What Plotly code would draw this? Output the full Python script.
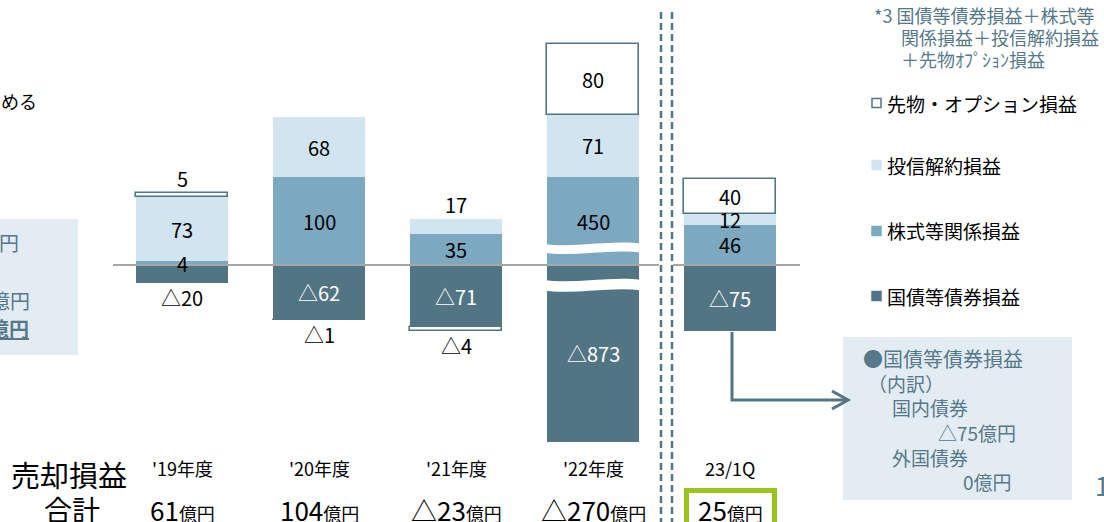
import plotly.graph_objects as go

W, H = 1104, 522

# ---------------- data ----------------
periods = ["'19年度", "'20年度", "'21年度", "'22年度", "23/1Q"]
bond = [-20, -62, -71, -873, -75]        # 国債等債券損益
equity = [4, 100, 35, 450, 46]           # 株式等関係損益
fund = [73, 68, 17, 71, 12]              # 投信解約損益
futures = [5, -1, -4, 80, 40]            # 先物・オプション損益
totals = [61, 104, -23, -270, 25]        # 売却損益合計（億円）
# part of each value hidden by the axis break (wavy cut on the '22 bar)
break_hidden_equity = [0, 0, 0, 350, 0]
break_hidden_bond = [0, 0, 0, -672, 0]

series_names = ["国債等債券損益", "株式等関係損益", "投信解約損益", "先物・オプション損益"]
legend_order = ["先物・オプション損益", "投信解約損益", "株式等関係損益", "国債等債券損益"]

# ---------------- style ----------------
DARK = "#527584"
MID = "#7CA8C0"
LIGHT = "#D1E5F1"
BOXBG = "#E3ECF2"
SLATE = "#56798A"
GRAY = "#A6A6A6"
LIME = "#9BC31C"
FONT = "Noto Sans CJK JP"

PPU = 0.88          # pixels per unit (y)
ZERO_PX = 265       # zero line pixel row
X0_PX, PITCH = 182, 137
BAR_W = 0.672

yrange = [(ZERO_PX - H) / PPU, ZERO_PX / PPU]
xrange = [-X0_PX / PITCH, (W - X0_PX) / PITCH]


def fmt(v):
    return f"△{abs(v)}" if v < 0 else str(v)


def px(x):
    return x / W


def py(y):
    return 1 - y / H


xs = list(range(len(periods)))
disp_bond = [v - h for v, h in zip(bond, break_hidden_bond)]
disp_equity = [v - h for v, h in zip(equity, break_hidden_equity)]
values = [bond, equity, fund, futures]
disp = [disp_bond, disp_equity, fund, futures]
colors = [DARK, MID, LIGHT, "white"]

fig = go.Figure()
for name, d, col in zip(series_names, disp, colors):
    is_fut = col == "white"
    fig.add_trace(go.Bar(
        x=xs, y=d, name=name, width=BAR_W,
        marker=dict(color=col, line=dict(color=DARK if is_fut else col,
                                         width=1.6 if is_fut else 0)),
        showlegend=False, hoverinfo="skip"))

annotations = []
shapes = []


def ann(text, x, y, size, color="black", xanchor="center", yanchor="middle",
        xref="paper", yref="paper", yshift=0, align="left"):
    annotations.append(dict(text=text, x=x, y=y, xref=xref, yref=yref,
                            xanchor=xanchor, yanchor=yanchor, showarrow=False,
                            yshift=yshift, align=align,
                            font=dict(family=FONT, size=size, color=color)))


# ---- bar labels ----
LBL = 20
for i in xs:
    pos_base, neg_base = 0.0, 0.0
    segs = []
    for k in range(4):
        d = disp[k][i]
        if d >= 0:
            lo, hi = pos_base, pos_base + d
            pos_base = hi
        else:
            lo, hi = neg_base + d, neg_base
            neg_base = lo
        segs.append((lo, hi, d))
    for k, (lo, hi, d) in enumerate(segs):
        v = values[k][i]
        txt = fmt(v)
        outer_pos = d >= 0 and hi == pos_base
        outer_neg = d < 0 and lo == neg_base
        if abs(d) <= 20 and (outer_pos or outer_neg):
            if d >= 0:
                ann(txt, i, hi, LBL, xref="x", yref="y", yanchor="bottom", yshift=-2)
            else:
                ann(txt, i, lo, LBL, xref="x", yref="y", yanchor="top", yshift=2)
        else:
            col = "white" if k == 0 else "black"
            ann(txt, i, (lo + hi) / 2, LBL, col, xref="x", yref="y")

# ---- axis break bands on the '22 bar ----
for i in xs:
    for hidden, yc, t in ((break_hidden_equity[i], 19, 10), (break_hidden_bond[i], -23, 12)):
        if hidden == 0:
            continue
        xl, xr = i - BAR_W / 2 - 0.03, i + BAR_W / 2 + 0.03
        w = xr - xl
        a = 2.5
        yt, yb = yc + t / 2, yc - t / 2
        path = (f"M {xl},{yt} C {xl + w / 3},{yt - 2 * a} {xl + 2 * w / 3},{yt + 2 * a} {xr},{yt} "
                f"L {xr},{yb} C {xl + 2 * w / 3},{yb + 2 * a} {xl + w / 3},{yb - 2 * a} {xl},{yb} Z")
        shapes.append(dict(type="path", path=path, xref="x", yref="y",
                           fillcolor="white", line=dict(width=0), layer="above"))

# ---- zero line ----
for a0, a1 in ((113, 659), (673, 800)):
    shapes.append(dict(type="line", xref="paper", yref="paper",
                       x0=px(a0), x1=px(a1), y0=py(ZERO_PX), y1=py(ZERO_PX),
                       line=dict(color=GRAY, width=2), layer="above"))

# ---- double dashed separator ----
for xx in (661, 672):
    shapes.append(dict(type="line", xref="paper", yref="paper",
                       x0=px(xx), x1=px(xx), y0=py(12), y1=py(522),
                       line=dict(color=DARK, width=2.5, dash="7px,4px")))

# ---- left partial box ----
shapes.append(dict(type="rect", xref="paper", yref="paper",
                   x0=px(-10), x1=px(78), y0=py(219), y1=py(355),
                   fillcolor=BOXBG, line=dict(width=0), layer="below"))
ann("円", px(21), py(242), 20, SLATE, xanchor="right")
ann("億円", px(32), py(300), 20, SLATE, xanchor="right")
ann("<b><u>億円</u></b>", px(31), py(328), 20, SLATE, xanchor="right")
ann("める", px(-1), py(101), 18, "black", xanchor="left")

# ---- category & totals ----
ann("売却損益", px(69), py(474), 29)
ann("合計", px(72), py(509), 28)
for i, (p, t) in enumerate(zip(periods, totals)):
    cx = px(X0_PX + PITCH * i)
    ann(p, cx, py(468), 18)
    ann(f"{fmt(t)}<span style='font-size:18px'>億円</span>", cx, py(509), 26)

shapes.append(dict(type="rect", xref="paper", yref="paper",
                   x0=px(686.5), x1=px(774.5), y0=py(490.5), y1=py(535),
                   line=dict(color=LIME, width=5), fillcolor="rgba(0,0,0,0)"))

# ---- footnote ----
ann("*3 国債等債券損益＋株式等", px(872), py(15), 18, SLATE, xanchor="left")
ann("関係損益＋投信解約損益", px(899), py(37), 18, SLATE, xanchor="left")
ann("＋先物ｵﾌﾟｼｮﾝ損益", px(899), py(59), 18, SLATE, xanchor="left")

# ---- legend ----
leg_y = [103, 165, 231, 296]
leg_col = {"先物・オプション損益": "white", "投信解約損益": LIGHT,
           "株式等関係損益": MID, "国債等債券損益": DARK}
for name, yy in zip(legend_order, leg_y):
    c = leg_col[name]
    shapes.append(dict(type="rect", xref="paper", yref="paper",
                       x0=px(872), x1=px(881), y0=py(yy + 4.5), y1=py(yy - 4.5),
                       fillcolor=c, line=dict(color=DARK if c == "white" else c, width=1.5)))
    ann(name, px(885), py(yy), 19, "black", xanchor="left")

# ---- callout ----
shapes.append(dict(type="rect", xref="paper", yref="paper",
                   x0=px(843), x1=px(1072), y0=py(337), y1=py(500),
                   fillcolor=BOXBG, line=dict(width=0), layer="below"))
shapes.append(dict(type="path", xref="paper", yref="paper",
                   path=f"M {px(732)},{py(332)} L {px(732)},{py(400)} L {px(847)},{py(400)}",
                   line=dict(color=DARK, width=3)))
shapes.append(dict(type="path", xref="paper", yref="paper",
                   path=f"M {px(832)},{py(391)} L {px(848)},{py(400)} L {px(832)},{py(409)}",
                   line=dict(color=DARK, width=3)))
ann("●国債等債券損益", px(861), py(358), 20, SLATE, xanchor="left")
ann("（内訳）", px(866), py(383), 19, SLATE, xanchor="left")
ann("国内債券", px(890), py(407), 19, SLATE, xanchor="left")
ann(f"{fmt(bond[4])}億円", px(1018), py(432), 19, SLATE, xanchor="right")
ann("外国債券", px(890), py(457), 19, SLATE, xanchor="left")
ann("0億円", px(1014), py(481), 19, SLATE, xanchor="right")

ann("1", px(1093), py(484), 26, SLATE, xanchor="left")

fig.update_layout(
    width=W, height=H, autosize=False,
    margin=dict(l=0, r=0, t=0, b=0, pad=0),
    paper_bgcolor="white", plot_bgcolor="white",
    barmode="relative", bargap=0,
    xaxis=dict(range=xrange, visible=False, fixedrange=True),
    yaxis=dict(range=yrange, visible=False, fixedrange=True),
    shapes=shapes, annotations=annotations,
    showlegend=False,
)

fig.write_html("out.html", config={"displayModeBar": False})
